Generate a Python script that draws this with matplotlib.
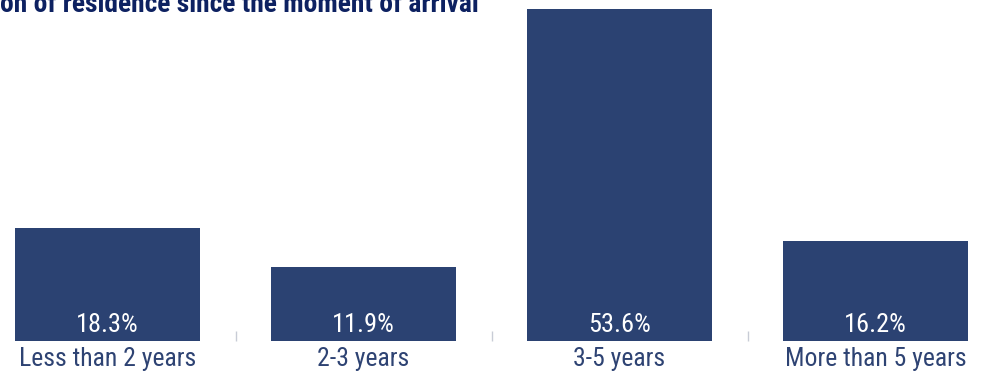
import numpy as np
import matplotlib.pyplot as plt
from matplotlib.ticker import FixedLocator

# Duration of residence since arrival
categories = ['Less than 2 years', '2-3 years', '3-5 years', 'More than 5 years']
shares = [18.3, 11.9, 53.6, 16.2]

bar_color = '#2b4272'
label_color = '#2e4373'
title_color = '#0d2161'
font = ['Roboto Condensed', 'Archivo Narrow', 'DejaVu Sans']

fig = plt.figure(figsize=(9.98, 3.78), dpi=100)
W, H = 998.0, 378.0
# axes span -0.5..3.5 in category units, 256 px per category
ax = fig.add_axes([-20.5 / W, (H - 341) / H, 1024 / W, 55 * (332 / 53.6) / H])

x = np.arange(len(categories))
ax.bar(x, shares, width=0.72, color=bar_color)
ax.set_xlim(-0.5, len(categories) - 0.5)
ax.set_ylim(0, 55)

for xi, v in zip(x, shares):
    ax.text(xi, 1.45, f'{v:.1f}%', ha='center', va='baseline', color='white',
            fontsize=19, family=font)

for s in ax.spines.values():
    s.set_visible(False)
ax.set_yticks([])
ax.xaxis.set_major_locator(FixedLocator(np.arange(-0.5, len(categories), 1.0)))
ax.xaxis.set_minor_locator(FixedLocator(x))
ax.set_xticklabels([], minor=False)
ax.set_xticklabels(categories, minor=True, color=label_color, fontsize=18.5, family=font)
ax.tick_params(axis='x', which='major', direction='in', length=7.5, width=1, color='#c8ccd6')
ax.tick_params(axis='x', which='minor', length=0, pad=4)

fig.text(0, 1 - 11.5 / H, 'on of residence since the moment of arrival', ha='left', va='baseline',
         color=title_color, fontsize=19.8, fontweight='heavy', family=font)

fig.savefig('out.png', dpi=100)
